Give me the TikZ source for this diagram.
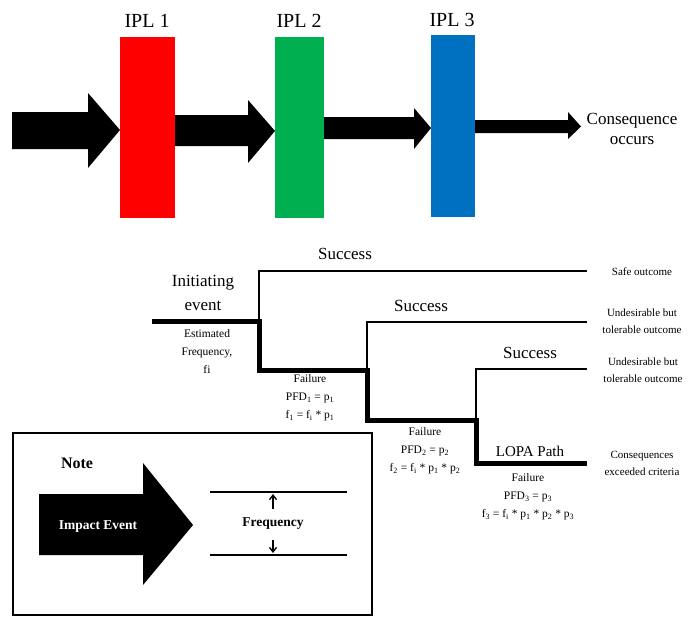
\documentclass[tikz,border=0pt]{standalone}
\usepackage{fontspec}
\setmainfont{Liberation Serif}
\usetikzlibrary{arrows.meta}
\definecolor{iplred}{HTML}{FF0000}
\definecolor{iplgreen}{HTML}{00B050}
\definecolor{iplblue}{HTML}{0070C0}
\newcommand{\sbs}[1]{\textsubscript{#1}}
\begin{document}
\begin{tikzpicture}[x=1pt,y=-1pt,
  ipllabel/.style={font=\fontsize{20}{22}\selectfont, inner sep=0pt},
  biglabel/.style={font=\fontsize{17}{20}\selectfont, align=center, inner sep=0pt},
  midlabel/.style={font=\fontsize{15}{17}\selectfont, align=center, inner sep=0pt},
  smalllabel/.style={font=\fontsize{11.5}{18}\selectfont, align=center, inner sep=0pt},
  outlabel/.style={font=\fontsize{11}{17}\selectfont, align=center, inner sep=0pt},
  thinline/.style={line width=2.6pt, line join=miter},
  thickline/.style={line width=5pt, line join=miter},
  notebold/.style={font=\bfseries\fontsize{13.5}{16}\selectfont, inner sep=0pt},
  freqarrow/.style={line width=1.4pt, -{Straight Barb[length=4.5pt,width=7pt]}}
]
\useasboundingbox (0,0) rectangle (696,616);

% ---------- top: IPL barriers ----------
\fill (12,112) -- (88,112) -- (88,93) -- (120,130) -- (88,168) -- (88,149) -- (12,149) -- cycle;
\fill (170,115) -- (248,115) -- (248,100) -- (275,131) -- (248,163) -- (248,146) -- (170,146) -- cycle;
\fill (320,117) -- (414,117) -- (414,108) -- (431,128) -- (414,149) -- (414,139) -- (320,139) -- cycle;
\fill (470,120) -- (568,120) -- (568,112) -- (581,126.5) -- (568,139) -- (568,133) -- (470,133) -- cycle;

\fill[iplred]   (120,37) rectangle (175,218);
\fill[iplgreen] (275,37) rectangle (324,218);
\fill[iplblue]  (431,35) rectangle (475,217);

\node[ipllabel] (ipl1) at (147,21) {IPL 1};
\node[ipllabel] (ipl2) at (299,21) {IPL 2};
\node[ipllabel] (ipl3) at (452,20) {IPL 3};
\node[biglabel] (cons) at (632,129) {Consequence\\occurs};

% ---------- event tree ----------
\coordinate (i0) at (152,321);
\coordinate (b1) at (259,321);
\coordinate (s1a) at (259,271);
\coordinate (s1b) at (587,271);
\coordinate (f1a) at (259,370);
\coordinate (b2) at (367,370);
\coordinate (s2a) at (367,322);
\coordinate (s2b) at (587,322);
\coordinate (f2a) at (367,420);
\coordinate (b3) at (476,420);
\coordinate (s3a) at (476,369);
\coordinate (s3b) at (587,369);
\coordinate (f3a) at (476,463);
\coordinate (f3b) at (587,463);

\draw[thinline] (b1) -- (s1a) -- (s1b);
\draw[thinline] (b2) -- (s2a) -- (s2b);
\draw[thinline] (b3) -- (s3a) -- (s3b);
\draw[thickline] (i0) -- (b1) -- (f1a) -- (b2) -- (f2a) -- (b3) -- (f3a) -- (f3b);

\node[biglabel] (succ1) at (345,254) {Success};
\node[biglabel] (succ2) at (421,306) {Success};
\node[biglabel] (succ3) at (530,353) {Success};
\node[midlabel] (lopa) at (530,451) {LOPA Path};
\node[biglabel, font=\fontsize{17}{24}\selectfont] (init) at (203,293) {Initiating\\event};
\node[smalllabel] (estf) at (207,352) {Estimated\\Frequency,\\fi};
\node[smalllabel] (fail1) at (310,398) {Failure\\PFD\sbs{1} = p\sbs{1}\\f\sbs{1} = f\sbs{i} * p\sbs{1}};
\node[smalllabel] (fail2) at (425,451) {Failure\\PFD\sbs{2} = p\sbs{2}\\f\sbs{2} = f\sbs{i} * p\sbs{1} * p\sbs{2}};
\node[smalllabel] (fail3) at (528,497) {Failure\\PFD\sbs{3} = p\sbs{3}\\f\sbs{3} = f\sbs{i} * p\sbs{1} * p\sbs{2} * p\sbs{3}};

\node[outlabel] (out1) at (642,272) {Safe outcome};
\node[outlabel] (out2) at (642,321) {Undesirable but\\tolerable outcome};
\node[outlabel] (out3) at (643,370) {Undesirable but\\tolerable outcome};
\node[outlabel] (out4) at (642,463) {Consequences\\exceeded criteria};

% ---------- note box ----------
\draw[line width=1.8pt] (13,433) rectangle (372,615);
\node[notebold, font=\bfseries\fontsize{16}{18}\selectfont] (note) at (77,463) {Note};
\fill (39,494) -- (143,494) -- (143,463) -- (193,525) -- (143,585) -- (143,555) -- (39,555) -- cycle;
\node[notebold, text=white] (impact) at (98,527) {Impact Event};

\coordinate (fl1a) at (210,492);
\coordinate (fl1b) at (347,492);
\coordinate (fl2a) at (210,555);
\coordinate (fl2b) at (347,555);
\draw[line width=1.8pt] (fl1a) -- (fl1b);
\draw[line width=1.8pt] (fl2a) -- (fl2b);
\node[notebold] (freq) at (273,524) {Frequency};
\coordinate (fu0) at (273,509);
\coordinate (fu1) at (273,494);
\coordinate (fd0) at (273,540);
\coordinate (fd1) at (273,553);
\draw[freqarrow] (fu0) -- (fu1);
\draw[freqarrow] (fd0) -- (fd1);
\end{tikzpicture}
\end{document}
